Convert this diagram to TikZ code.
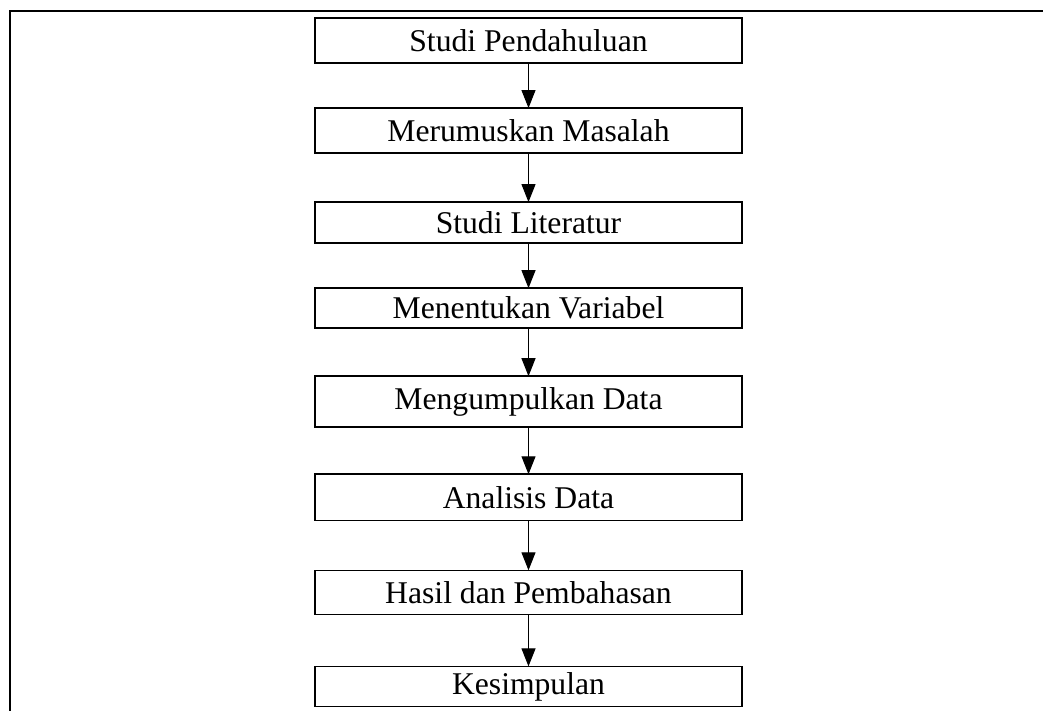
\documentclass[tikz,border=0pt]{standalone}
\usepackage{fontspec}
\setmainfont{Liberation Serif}
\usetikzlibrary{positioning,arrows.meta}

\begin{document}
\begin{tikzpicture}[x=0.01cm,y=-0.01cm,
    langkah/.style={rectangle, draw, line width=0.45pt, minimum width=4.27cm, minimum height=0.45cm, inner sep=0pt, outer sep=0pt, align=center, font=\fontsize{9}{11}\selectfont},
    panah/.style={-{Triangle[length=1.8mm,width=1.4mm]}, line width=0.3pt}]
    \useasboundingbox (0,0) rectangle (1043,711);
    % Bingkai
    \draw[line width=0.65pt] (1043,11) -- (10,11) -- (10,711);
    % Kotak
    \node (studi) [langkah] at (528.5,40.5) {Studi Pendahuluan};
    \node (rumus) [langkah, below=0.45cm of studi] {Merumuskan Masalah};
    \node (literatur) [langkah, minimum height=0.41cm, below=0.49cm of rumus] {Studi Literatur};
    \node (variabel) [langkah, minimum height=0.40cm, below=0.45cm of literatur] {Menentukan Variabel};
    \node (kumpul) [langkah, minimum height=0.51cm, below=0.48cm of variabel] {Mengumpulkan Data};
    \node (analisis) [langkah, minimum height=0.46cm, below=0.47cm of kumpul] {Analisis Data};
    \node (hasil) [langkah, minimum height=0.44cm, below=0.50cm of analisis] {Hasil dan Pembahasan};
    \node (simpul) [langkah, minimum height=0.40cm, below=0.52cm of hasil] {Kesimpulan};
    % Panah
    \draw [panah] (studi) -- (rumus);
    \draw [panah] (rumus) -- (literatur);
    \draw [panah] (literatur) -- (variabel);
    \draw [panah] (variabel) -- (kumpul);
    \draw [panah] (kumpul) -- (analisis);
    \draw [panah] (analisis) -- (hasil);
    \draw [panah] (hasil) -- (simpul);
\end{tikzpicture}
\end{document}
